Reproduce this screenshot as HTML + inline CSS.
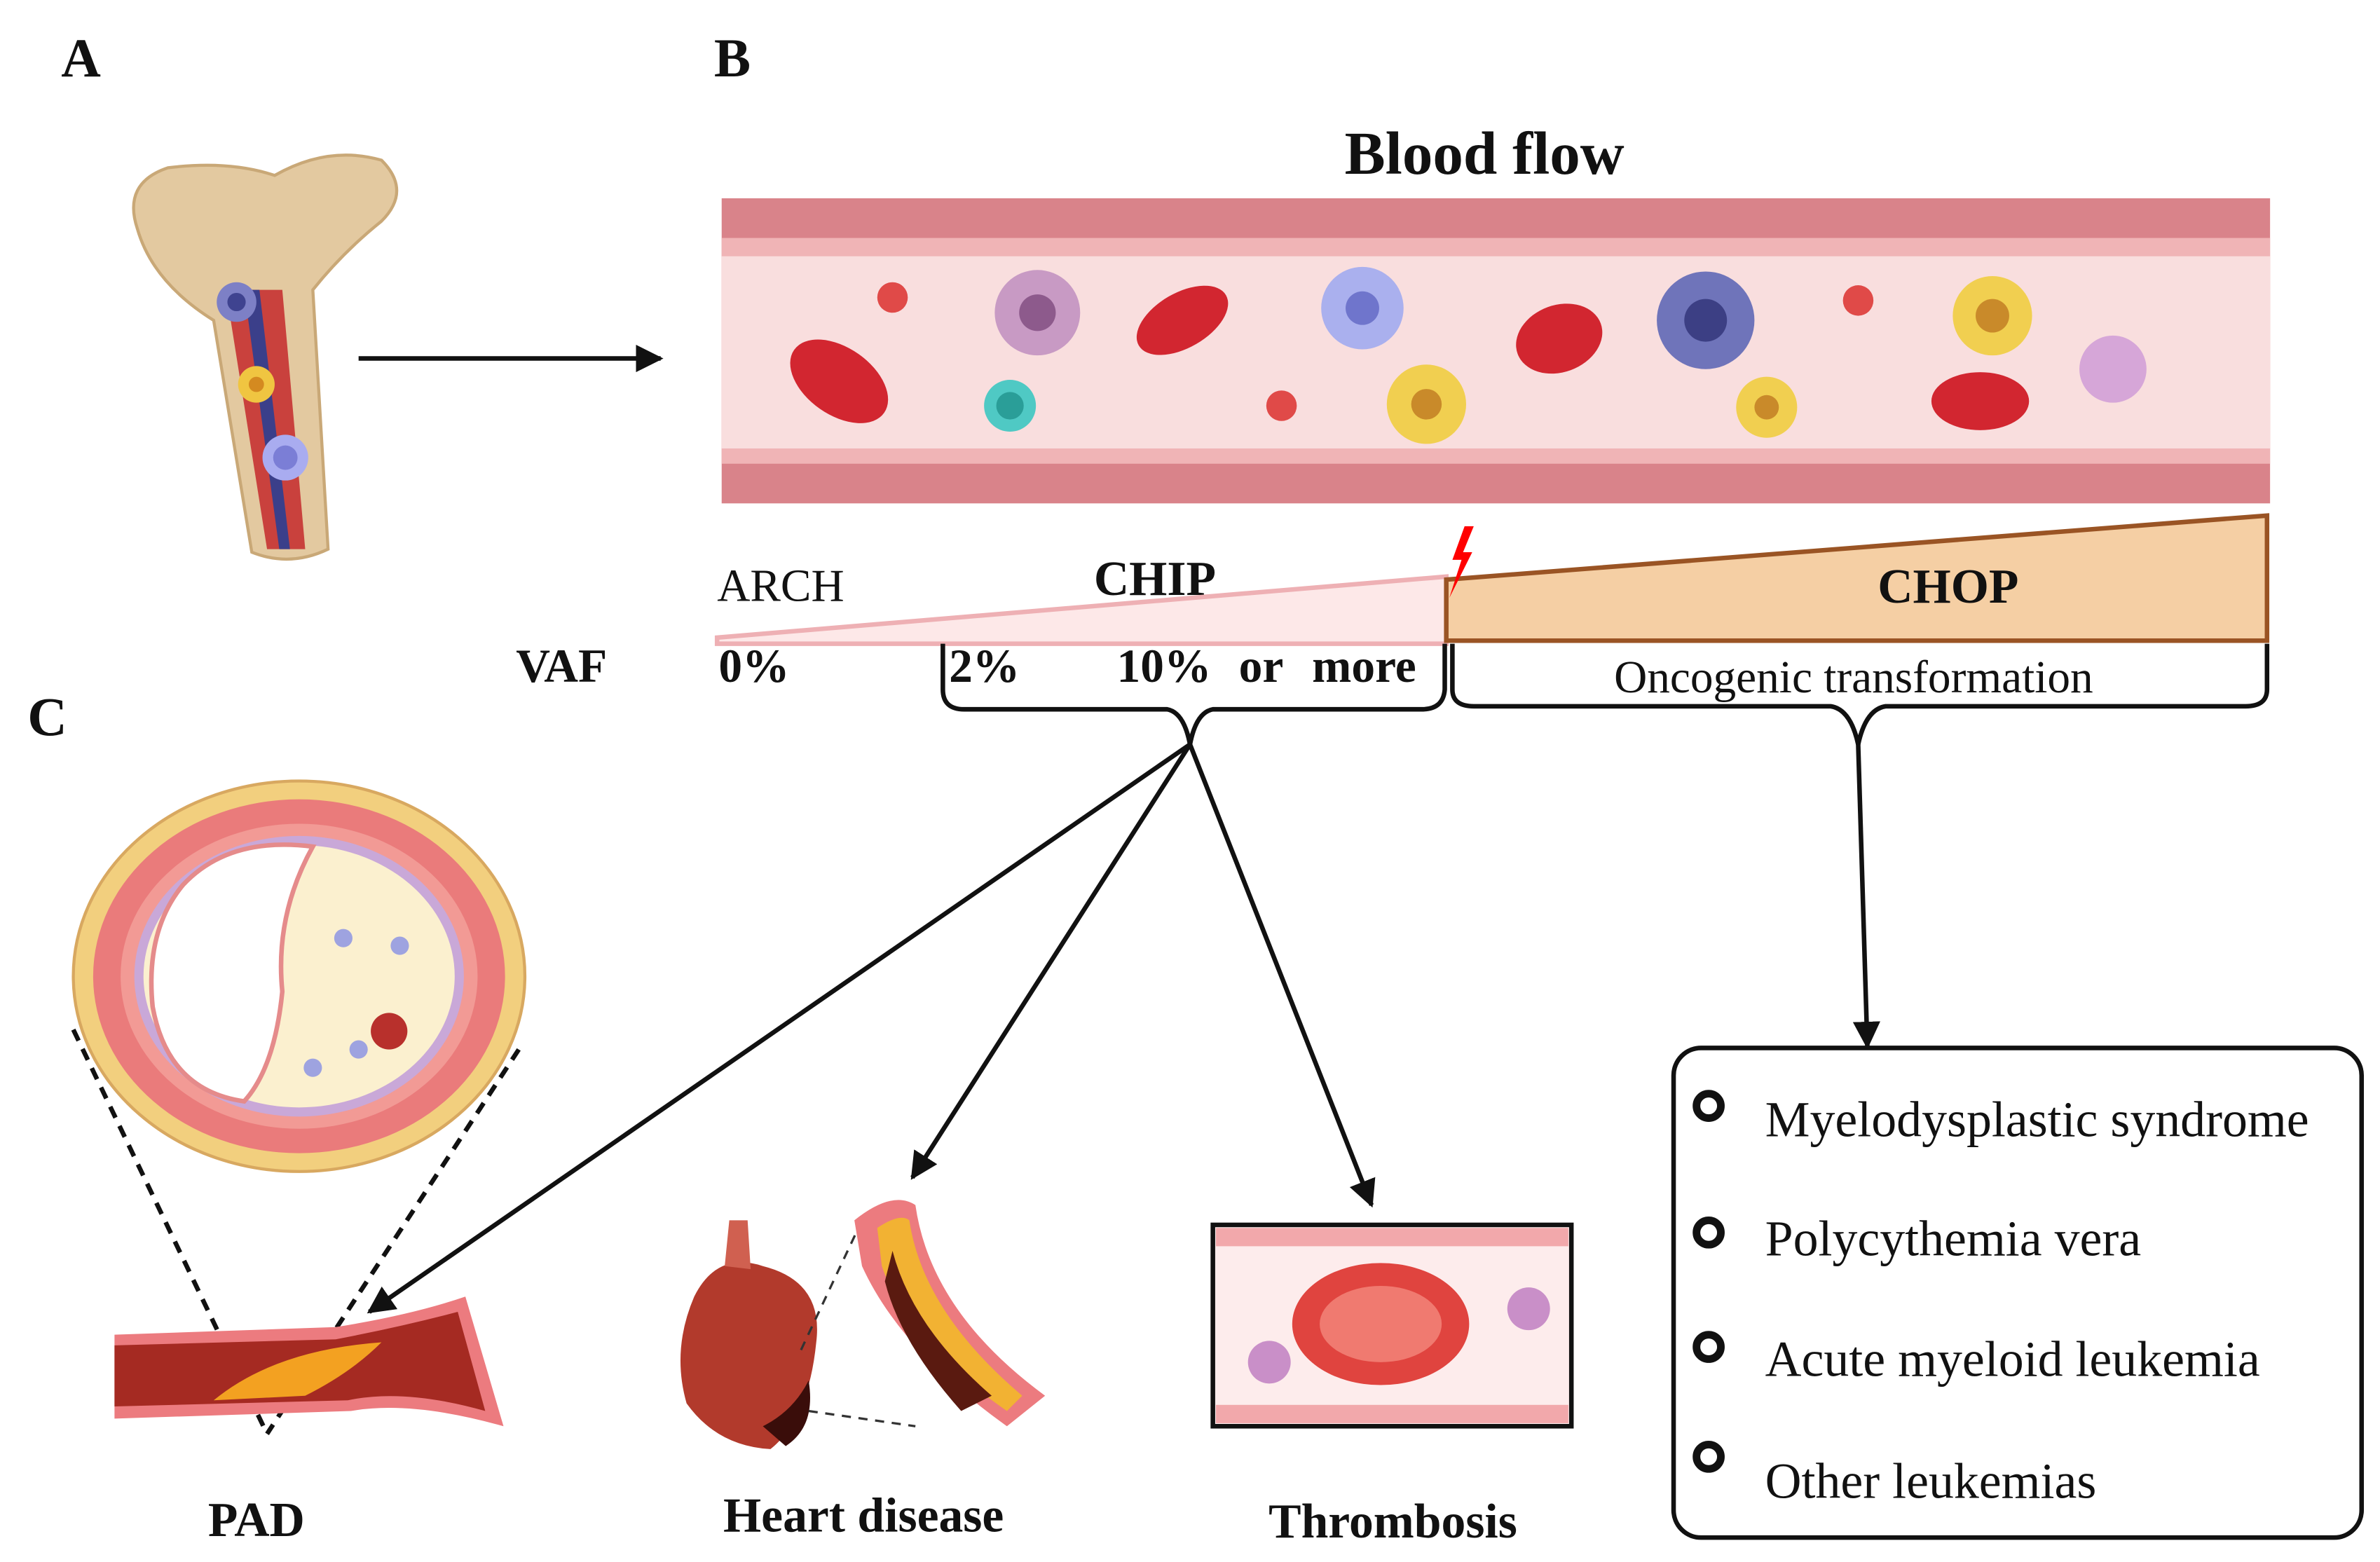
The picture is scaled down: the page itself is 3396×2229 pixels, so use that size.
<!DOCTYPE html>
<html><head><meta charset="utf-8"><style>html,body{margin:0;padding:0;background:#fff}svg{display:block}</style></head>
<body>
<svg width="3396" height="2229" viewBox="0 0 1560 1024" xmlns="http://www.w3.org/2000/svg" font-family="Liberation Serif, serif">
<defs>
<marker id="ah" viewBox="0 0 10 10" refX="9" refY="5" markerWidth="6" markerHeight="6" orient="auto"><path d="M0,0 L10,5 L0,10 z" fill="#111"/></marker>
</defs>
<rect width="1560" height="1024" fill="#fff"/>
<g font-weight="bold" font-size="36" fill="#111">
<text x="40" y="50">A</text><text x="468" y="50">B</text><text x="18" y="482">C</text>
</g>
<!-- bone -->
<path d="M90,150 Q80,120 110,110 Q150,105 180,115 Q215,95 250,105 Q270,125 250,145 Q225,165 205,190 L215,360 Q190,372 165,362 L140,210 Q100,185 90,150 Z" fill="#e3c9a0" stroke="#c9a877" stroke-width="2"/>
<path d="M148,190 L175,360 L200,360 L185,190 Z" fill="#c9413d"/>
<path d="M160,190 L183,360 L190,360 L170,190 Z" fill="#3b3f8a"/>
<circle cx="155" cy="198" r="13" fill="#7d80c6"/><circle cx="155" cy="198" r="6" fill="#3f4390"/>
<circle cx="168" cy="252" r="12" fill="#f0c541"/><circle cx="168" cy="252" r="5" fill="#d48a20"/>
<circle cx="187" cy="300" r="15" fill="#a9acf0"/><circle cx="187" cy="300" r="8" fill="#7b7ed6"/>
<line x1="235" y1="235" x2="433" y2="235" stroke="#111" stroke-width="3" marker-end="url(#ah)"/>
<!-- blood vessel -->
<text x="973" y="114" text-anchor="middle" font-size="40" font-weight="bold" fill="#111">Blood flow</text>
<rect x="473" y="130" width="1015" height="200" fill="#d9838a"/>
<rect x="473" y="156" width="1015" height="148" fill="#f0b4b6"/>
<rect x="473" y="168" width="1015" height="126" fill="#f9dede"/>
<g>
<ellipse cx="550" cy="250" rx="36" ry="22" transform="rotate(35 550 250)" fill="#d22630"/>
<ellipse cx="775" cy="210" rx="33" ry="18" transform="rotate(-30 775 210)" fill="#d22630"/>
<ellipse cx="1022" cy="222" rx="29" ry="22" transform="rotate(-20 1022 222)" fill="#d22630"/>
<ellipse cx="1298" cy="263" rx="32" ry="19" fill="#d22630"/>
<circle cx="680" cy="205" r="28" fill="#c89ac4"/><circle cx="680" cy="205" r="12" fill="#8d5a8c"/>
<circle cx="662" cy="266" r="17" fill="#4fc9c4"/><circle cx="662" cy="266" r="9" fill="#2a9e98"/>
<circle cx="893" cy="202" r="27" fill="#aab0ee"/><circle cx="893" cy="202" r="11" fill="#6f75cc"/>
<circle cx="935" cy="265" r="26" fill="#f1cf50"/><circle cx="935" cy="265" r="10" fill="#c98a2a"/>
<circle cx="1118" cy="210" r="32" fill="#6f74ba"/><circle cx="1118" cy="210" r="14" fill="#3c3f84"/>
<circle cx="1158" cy="267" r="20" fill="#f1cf50"/><circle cx="1158" cy="267" r="8" fill="#c98a2a"/>
<circle cx="1306" cy="207" r="26" fill="#f1cf50"/><circle cx="1306" cy="207" r="11" fill="#c98a2a"/>
<circle cx="1385" cy="242" r="22" fill="#d6a6d8"/>
<circle cx="585" cy="195" r="10" fill="#e04a48"/><circle cx="840" cy="266" r="10" fill="#e04a48"/><circle cx="1218" cy="197" r="10" fill="#e04a48"/>
</g>
<!-- stage bar -->
<text x="470" y="394" font-size="30" fill="#111">ARCH</text>
<text x="757" y="390" font-size="32" font-weight="bold" text-anchor="middle" fill="#111">CHIP</text>
<path d="M470,418 L948,378 L948,422 L470,422 Z" fill="#fde8e8" stroke="#eeb0b4" stroke-width="3"/>
<path d="M948,380 L1486,338 L1486,420 L948,420 Z" fill="#f5cfa4" stroke="#9a5424" stroke-width="3"/>
<text x="1277" y="395" font-size="32" font-weight="bold" text-anchor="middle" fill="#111">CHOP</text>
<path d="M960,345 L952,367 L958,367 L950,392 L965,362 L959,362 L966,345 Z" fill="#f00"/>
<g font-size="31" font-weight="bold" fill="#111">
<text x="368" y="447" text-anchor="middle">VAF</text>
<text x="471" y="447">0%</text><text x="622" y="447">2%</text>
<text x="732" y="447">10%</text><text x="812" y="447">or</text><text x="860" y="447">more</text>
</g>
<text x="1215" y="454" font-size="30" text-anchor="middle" fill="#111">Oncogenic transformation</text>
<path d="M618,422 L618,452 Q618,465 632,465 L765,465 Q776,467 780,488 Q784,467 795,465 L932,465 Q946,465 947,452 L947,422" fill="none" stroke="#111" stroke-width="3"/>
<path d="M952,422 L952,452 Q952,463 966,463 L1200,463 Q1213,465 1218,488 Q1223,465 1236,463 L1472,463 Q1486,463 1486,452 L1486,422" fill="none" stroke="#111" stroke-width="3"/>
<g stroke="#111" stroke-width="3" marker-end="url(#ah)">
<line x1="780" y1="488" x2="242" y2="860"/>
<line x1="780" y1="488" x2="598" y2="772"/>
<line x1="780" y1="488" x2="899" y2="790"/>
<line x1="1218" y1="488" x2="1224" y2="686"/>
</g>
<!-- box -->
<rect x="1097" y="687" width="451" height="321" rx="18" fill="#fff" stroke="#111" stroke-width="3"/>
<g fill="none" stroke="#111" stroke-width="5">
<circle cx="1120" cy="725" r="8"/><circle cx="1120" cy="808" r="8"/><circle cx="1120" cy="883" r="8"/><circle cx="1120" cy="955" r="8"/>
</g>
<g font-size="33" fill="#111">
<text x="1157" y="745">Myelodysplastic syndrome</text>
<text x="1157" y="823">Polycythemia vera</text>
<text x="1157" y="902">Acute myeloid leukemia</text>
<text x="1157" y="982">Other leukemias</text>
</g>
<!-- artery cross section -->
<ellipse cx="196" cy="640" rx="148" ry="128" fill="#f2cf7e" stroke="#d8a860" stroke-width="2"/>
<ellipse cx="196" cy="640" rx="135" ry="116" fill="#ea7b7b"/>
<ellipse cx="196" cy="640" rx="117" ry="100" fill="#f29a95"/>
<ellipse cx="196" cy="640" rx="108" ry="92" fill="#c9a8d8"/>
<ellipse cx="196" cy="640" rx="102" ry="86" fill="#fbf0cf"/>
<path d="M120,580 Q150,548 205,555 Q180,600 185,650 Q180,700 160,722 Q110,715 100,660 Q95,610 120,580 Z" fill="#fff" stroke="#e58b8b" stroke-width="3"/>
<circle cx="255" cy="676" r="12" fill="#b8302c"/>
<circle cx="225" cy="615" r="6" fill="#9ea3e0"/><circle cx="262" cy="620" r="6" fill="#9ea3e0"/><circle cx="205" cy="700" r="6" fill="#9ea3e0"/><circle cx="235" cy="688" r="6" fill="#9ea3e0"/>
<g stroke="#111" stroke-width="3" stroke-dasharray="8,6"><line x1="48" y1="675" x2="175" y2="940"/><line x1="340" y1="688" x2="175" y2="940"/></g>
<!-- PAD artery -->
<path d="M75,875 L220,870 Q270,862 305,850 L330,935 Q270,918 230,925 L75,930 Z" fill="#ec7b7f"/>
<path d="M75,882 L220,878 Q262,870 300,860 L318,925 Q265,910 228,918 L75,922 Z" fill="#a52a22"/>
<path d="M140,918 Q180,885 250,880 Q230,900 200,915 Z" fill="#f3a121"/>
<text x="168" y="1007" font-size="32" font-weight="bold" text-anchor="middle" fill="#111">PAD</text>
<!-- heart -->
<path d="M455,850 Q470,820 500,830 Q540,840 535,880 Q530,930 505,950 Q470,948 450,920 Q440,885 455,850 Z" fill="#b23a2c"/>
<path d="M475,830 L478,800 L490,800 L492,832 Z" fill="#d06050"/>
<path d="M500,935 Q520,925 530,905 Q535,935 515,948 Z" fill="#3a0d0a"/>
<g stroke="#333" stroke-width="1.5" stroke-dasharray="6,5"><line x1="525" y1="885" x2="565" y2="800"/><line x1="530" y1="925" x2="600" y2="935"/></g>
<path d="M560,800 Q585,780 600,790 Q610,860 685,915 L660,935 Q590,885 565,830 Z" fill="#ec7b7f"/>
<path d="M575,805 Q590,795 596,800 Q605,860 670,915 L660,925 Q595,880 578,830 Z" fill="#f2b233"/>
<path d="M585,820 Q598,870 650,915 L630,925 Q590,880 580,840 Z" fill="#5a1a10"/>
<text x="566" y="1004" font-size="32" font-weight="bold" text-anchor="middle" fill="#111">Heart disease</text>
<!-- thrombosis -->
<rect x="795" y="803" width="235" height="132" fill="#fdecec" stroke="#111" stroke-width="3"/>
<rect x="797" y="805" width="231" height="12" fill="#f2a8ab"/><rect x="797" y="921" width="231" height="12" fill="#f2a8ab"/>
<ellipse cx="905" cy="868" rx="58" ry="40" fill="#e0443f"/>
<ellipse cx="905" cy="868" rx="40" ry="25" fill="#f07a70"/>
<circle cx="832" cy="893" r="14" fill="#c98fc8"/><circle cx="1002" cy="858" r="14" fill="#c98fc8"/>
<text x="913" y="1008" font-size="32" font-weight="bold" text-anchor="middle" fill="#111">Thrombosis</text>
</svg>
</body></html>
